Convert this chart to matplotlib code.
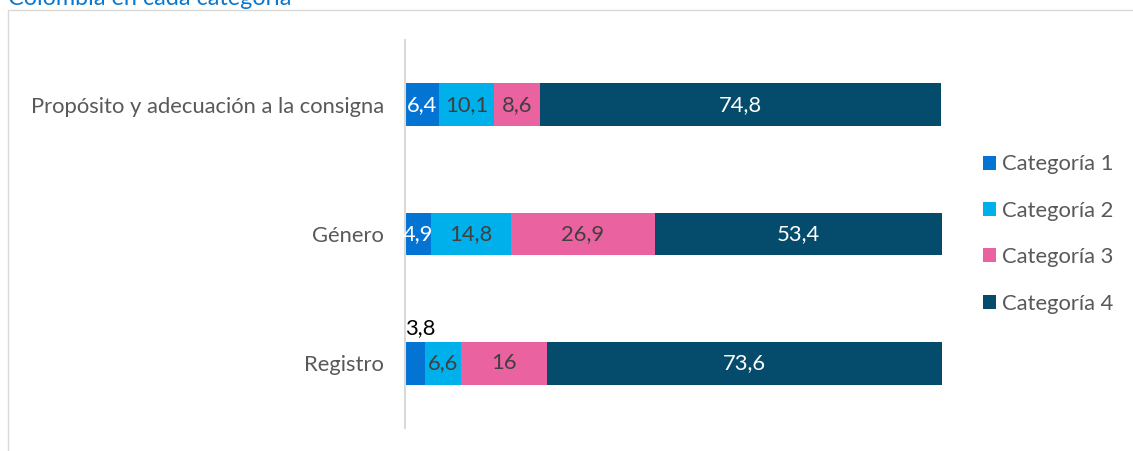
import matplotlib
matplotlib.use("Agg")
import matplotlib.pyplot as plt
from matplotlib.patches import Rectangle

plt.rcParams["font.family"] = ["Lato", "DejaVu Sans"]

# Data
categories = ["Propósito y adecuación a la consigna", "Género", "Registro"]
series_names = ["Categoría 1", "Categoría 2", "Categoría 3", "Categoría 4"]
cat1 = [6.4, 4.9, 3.8]
cat2 = [10.1, 14.8, 6.6]
cat3 = [8.6, 26.9, 16.0]
cat4 = [74.8, 53.4, 73.6]
title = "Colombia en cada categoría"

colors = ["#0474D4", "#00B0EA", "#EB62A0", "#044B6C"]
label_colors = ["white", "#404040", "#404040", "white"]
FS = 15.8


def fmt(v):
    s = f"{v:g}"
    return s.replace(".", ",")


W, H = 1133, 451
fig = plt.figure(figsize=(W / 100, H / 100), dpi=100)
ax = fig.add_axes([405 / W, 1 - 428 / H, 537 / W, 388 / H])

y = list(range(len(categories)))
left = [0.0] * len(categories)
bar_h = 0.33
for name, vals, col, lcol in zip(series_names, [cat1, cat2, cat3, cat4], colors, label_colors):
    ax.barh(y, vals, left=left, height=bar_h, color=col, label=name)
    for yi, v, l0 in zip(y, vals, left):
        if v < 4.5:
            # too narrow: label sits above the bar
            ax.text(l0 + v / 2 + 0.9, yi - bar_h / 2 - 0.03, fmt(v), ha="center", va="bottom",
                    fontsize=FS, color="black")
        else:
            ax.text(l0 + v / 2, yi, fmt(v), ha="center", va="center",
                    fontsize=FS, color=lcol)
    left = [a + b for a, b in zip(left, vals)]

ax.set_xlim(0, 100)
ax.set_ylim(len(categories) - 0.5, -0.5)
ax.set_yticks(y)
ax.set_yticklabels(categories, fontsize=FS, color="#595959")
ax.tick_params(axis="y", length=0, pad=15)
ax.set_xticks([])
for s in ["top", "right", "bottom"]:
    ax.spines[s].set_visible(False)
ax.spines["left"].set_color("#D9D9D9")
ax.spines["left"].set_linewidth(1.5)

ax.legend(loc="center left", bbox_to_anchor=(963 / W, 1 - 234 / H),
          bbox_transform=fig.transFigure, frameon=False, fontsize=FS,
          handlelength=0.6, handleheight=0.6, handletextpad=0.3,
          labelspacing=1.2, labelcolor="#595959")

# chart frame (cut off at right and bottom)
fig.add_artist(Rectangle((8 / W, -0.1), 1.2, 1 - 10 / H + 0.1, transform=fig.transFigure,
                         fill=False, edgecolor="#D9D9D9", linewidth=1.0))
fig.text(8 / W, 1 - 5 / H, title, ha="left", va="baseline", fontsize=16.8, color="#0B78D0")

fig.savefig("out.png", dpi=100)
